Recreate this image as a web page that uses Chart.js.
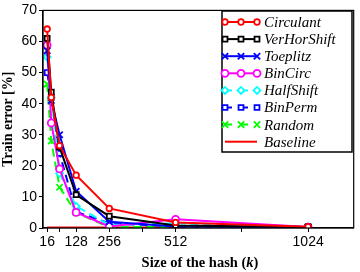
<!DOCTYPE html>
<html>
<head>
<meta charset="utf-8">
<script src="https://cdn.jsdelivr.net/npm/chart.js@4.4.1/dist/chart.umd.min.js"></script>
<style>
  html, body { margin: 0; padding: 0; background: #fff; }
  #wrap { width: 360px; height: 272px; }
</style>
</head>
<body>
<div id="wrap"><canvas id="hashChart" width="360" height="272"></canvas></div>
<script>
// hash sizes (k) and train error [%] per method
const hashSizes = [16, 32, 64, 128, 256, 512, 1024];
const circulant   = [64, 42, 26.5, 17, 6.3, 1.8, 0.4];
const verHorShift = [61, 43.7, 26, 10.7, 3.8, 0.8, 0.3];
const toeplitz    = [57, 41, 30, 11.8, 2, 0.5, 0.3];
const binCirc     = [58.8, 33.8, 19, 5, 0.5, 2.8, 0.3];
const halfShift   = [55, 42, 17.6, 7, 1, 1.5, 0.3];
const binPerm     = [50, 42, 24, 5.2, 1.5, 0.5, 0.3];
const random      = [46.3, 28, 13.1, 4.9, 0.3, 0.3, 0.3];
const baseline    = [0.2, 0.2, 0.2, 0.2, 0.2, 0.2, 0.2];

const xTicks = [16, 64, 128, 256, 384, 512, 768, 1024];
const xTickLabels = [16, 128, 256, 512, 1024];
const yTicks = [0, 10, 20, 30, 40, 50, 60, 70];

function series(label, values, color, style, radius, dashed) {
  return {
    label: label,
    data: hashSizes.map((k, i) => ({ x: k, y: values[i] })),
    borderColor: color,
    backgroundColor: '#fff',
    pointBorderColor: color,
    pointBackgroundColor: '#fff',
    pointStyle: style,
    pointRadius: radius,
    pointBorderWidth: 1.8,
    borderWidth: 2,
    borderDash: dashed ? [8, 5] : [],
    tension: 0
  };
}

const datasets = [
  series('Circulant', circulant, '#ff0000', 'circle', 2.8, false),
  series('VerHorShift', verHorShift, '#000000', 'rect', 3.5, false),
  series('Toeplitz', toeplitz, '#0000ff', 'crossRot', 4.5, false),
  series('BinCirc', binCirc, '#ff00ff', 'circle', 3.5, false),
  series('HalfShift', halfShift, '#00ffff', 'rectRot', 3.5, true),
  series('BinPerm', binPerm, '#0000ff', 'rect', 3.5, true),
  series('Random', random, '#00ff00', 'crossRot', 4.5, true),
  series('Baseline', baseline, '#ff0000', false, 0, false)
];
datasets[7].pointRadius = 0;

// draws the frame, the x title with italic k and the boxed legend
const framePlugin = {
  id: 'framePlugin',
  afterDraw(chart) {
    const ctx = chart.ctx;
    const a = chart.chartArea;
    ctx.save();
    ctx.strokeStyle = '#000';
    ctx.lineWidth = 1.2;
    ctx.setLineDash([]);
    ctx.strokeRect(a.left, a.top, a.right - a.left, a.bottom - a.top);

    // x axis title
    const parts = [
      ['Size of the hash (', 'bold 14.5px "Liberation Serif"'],
      ['k', 'italic bold 14.5px "Liberation Serif"'],
      [')', 'bold 14.5px "Liberation Serif"']
    ];
    let total = 0;
    parts.forEach(p => { ctx.font = p[1]; total += ctx.measureText(p[0]).width; });
    let tx = 200 - total / 2;
    ctx.fillStyle = '#000';
    ctx.textBaseline = 'alphabetic';
    ctx.textAlign = 'left';
    parts.forEach(p => {
      ctx.font = p[1];
      ctx.fillText(p[0], tx, 267);
      tx += ctx.measureText(p[0]).width;
    });

    const bx = 222, by = 11, bw = 130, bh = 141;
    ctx.fillStyle = '#fff';
    ctx.fillRect(bx, by, bw, bh);
    ctx.lineWidth = 1.5;
    ctx.strokeRect(bx, by, bw, bh);

    chart.data.datasets.forEach((ds, i) => {
      const y = 22 + i * 17.1;
      const x0 = 225, x1 = 257;
      ctx.strokeStyle = ds.borderColor;
      ctx.lineWidth = 2;
      ctx.setLineDash(ds.borderDash.length ? [7, 9] : []);
      ctx.beginPath();
      ctx.moveTo(x0, y);
      ctx.lineTo(x1, y);
      ctx.stroke();
      ctx.setLineDash([]);
      if (ds.pointRadius > 0) {
        [x0, (x0 + x1) / 2, x1].forEach(px => {
          ctx.strokeStyle = ds.borderColor;
          ctx.fillStyle = '#fff';
          ctx.lineWidth = 1.8;
          Chart.helpers.drawPoint(ctx, {
            pointStyle: ds.pointStyle, radius: ds.pointRadius,
            rotation: 0, borderWidth: 1.8
          }, px, y);
        });
      }
      ctx.fillStyle = '#000';
      ctx.font = 'italic 15px "Liberation Serif"';
      ctx.textBaseline = 'middle';
      ctx.textAlign = 'left';
      ctx.fillText(ds.label, 264, y + 1);
    });
    ctx.restore();
  }
};

new Chart(document.getElementById('hashChart').getContext('2d'), {
  type: 'line',
  data: { datasets: datasets },
  plugins: [framePlugin],
  options: {
    responsive: false,
    animation: false,
    layout: { padding: { top: 8, right: 4, left: 0, bottom: 0 } },
    plugins: { legend: { display: false }, tooltip: { enabled: false } },
    scales: {
      x: {
        type: 'linear',
        min: 0,
        max: 1200,
        afterBuildTicks: s => { s.ticks = xTicks.map(v => ({ value: v })); },
        afterFit: s => { s.height = 44; },
        grid: { drawOnChartArea: false, tickLength: 4, color: '#000' },
        border: { color: '#000', width: 1.2 },
        ticks: {
          autoSkip: false,
          maxRotation: 0,
          padding: 2,
          color: '#000',
          font: { family: '"Liberation Sans"', size: 14 },
          callback: v => xTickLabels.includes(v) ? String(v) : ''
        },
        title: { display: false }
      },
      y: {
        type: 'linear',
        min: 0,
        max: 70,
        afterBuildTicks: s => { s.ticks = yTicks.map(v => ({ value: v })); },
        afterFit: s => { s.width = 43; },
        grid: { drawOnChartArea: false, tickLength: 4, color: '#000' },
        border: { color: '#000', width: 1.2 },
        ticks: {
          padding: 2,
          color: '#000',
          font: { family: '"Liberation Sans"', size: 14 }
        },
        title: {
          display: true,
          text: 'Train error [%]',
          color: '#000',
          padding: { top: 0, bottom: 0 },
          font: { family: '"Liberation Serif"', size: 14, weight: 'bold' }
        }
      }
    }
  }
});
</script>
</body>
</html>
